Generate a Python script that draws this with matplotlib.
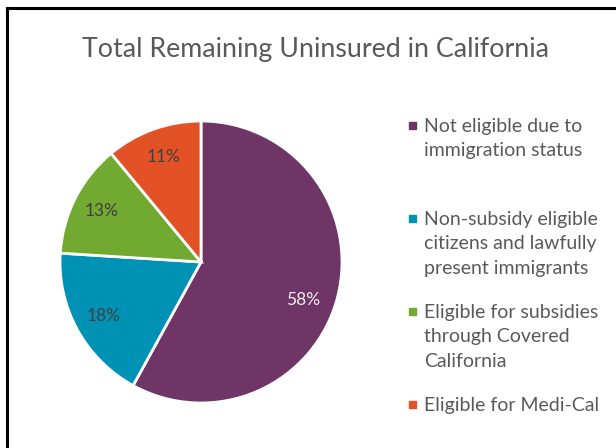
import numpy as np
import matplotlib
matplotlib.use("Agg")
from matplotlib import pyplot as plt
from matplotlib.patches import Rectangle
from matplotlib.lines import Line2D

title = "Total Remaining Uninsured in California"
labels = [
    "Not eligible due to\nimmigration status",
    "Non-subsidy eligible\ncitizens and lawfully\npresent immigrants",
    "Eligible for subsidies\nthrough Covered\nCalifornia",
    "Eligible for Medi-Cal",
]
shares = [58, 18, 13, 11]
colors = ["#6f3567", "#0092b4", "#72a930", "#e35226"]
pct_colors = ["#eeeeee", "#404040", "#404040", "#404040"]

W, H = 616, 448
plt.rcParams['font.family'] = ['Lato', 'DejaVu Sans']
fig = plt.figure(figsize=(W / 100, H / 100), dpi=100)


def px(x, y):
    # pixel coords (top-left origin) -> figure fraction
    return x / W, 1 - y / H


# frame around the chart (only left and top edges are in view)
fig.add_artist(Line2D([7 / W, 7 / W], [0, 1 - 8 / H], color="black", lw=2.2,
                      transform=fig.transFigure))
fig.add_artist(Line2D([7 / W, 1], [1 - 8 / H, 1 - 8 / H], color="black", lw=2.2,
                      transform=fig.transFigure))

fig.text(*px(315, 50), title, ha="center", va="center",
         fontsize=19.3, color="#595959")

r = 141
ax = fig.add_axes([(201 - r) / W, 1 - (262 + r) / H, 2 * r / W, 2 * r / H])
wedges, texts, autotexts = ax.pie(
    shares, colors=colors, startangle=90, counterclock=False,
    autopct="%d%%", pctdistance=0.79,
    wedgeprops=dict(edgecolor="white", linewidth=2),
    textprops=dict(fontsize=12.5),
)
for t, c in zip(autotexts, pct_colors):
    t.set_color(c)

# the big slice's label sits a little lower than its mid angle
w = wedges[0]
ang = np.deg2rad((w.theta1 + w.theta2) / 2 - 6)
autotexts[0].set_position((0.77 * np.cos(ang), 0.77 * np.sin(ang)))

ax.set_xlim(-1, 1)
ax.set_ylim(-1, 1)
ax.set_aspect("equal")
ax.axis("off")

# legend drawn by hand so the square sits at the first line of each entry
for i, (lab, col) in enumerate(zip(labels, colors)):
    ty = 125 + i * 93
    fig.add_artist(Rectangle(px(409, ty + 4), 7 / W, 7 / H, color=col,
                             transform=fig.transFigure))
    fig.text(*px(424, ty - 7), lab, ha="left", va="top", fontsize=14,
             color="#595959", linespacing=1.52)

fig.savefig("out.png", dpi=100)
